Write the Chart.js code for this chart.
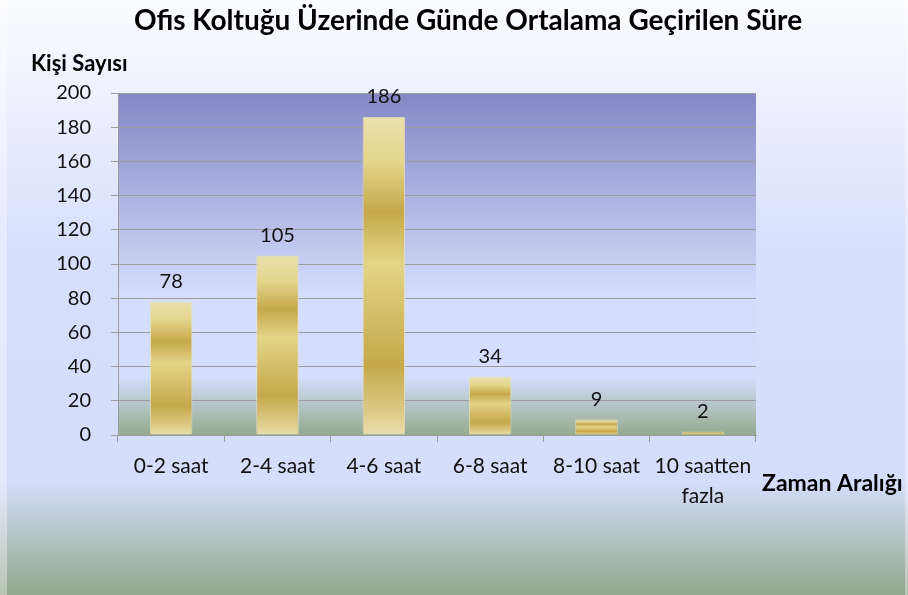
<!DOCTYPE html>
<html><head><meta charset="utf-8">
<script src="https://cdn.jsdelivr.net/npm/chart.js@4/dist/chart.umd.min.js"></script>
<style>html,body{margin:0;padding:0;background:#fff;}canvas{display:block;}</style>
</head><body>
<canvas id="c" width="908" height="595" style="width:908px;height:595px"></canvas>
<script>
const chartTitle = 'Ofis Koltuğu Üzerinde Günde Ortalama Geçirilen Süre';
const yAxisName = 'Kişi Sayısı';
const xAxisName = 'Zaman Aralığı';
const categories = ['0-2 saat', '2-4 saat', '4-6 saat', '6-8 saat', '8-10 saat', ['10 saatten', 'fazla']];
const values = [78, 105, 186, 34, 9, 2];
const yMin = 0, yMax = 200, yStep = 20;

const FONT = "Lato, 'DejaVu Sans', sans-serif";
const TXT = '#111111';
const GRID = '#9c9c9c';

function goldGradient(ctx) {
  const chart = ctx.chart;
  if (!chart.chartArea) return '#d4bc62';
  const ys = chart.scales.y;
  const top = ys.getPixelForValue(ctx.raw);
  const base = ys.getPixelForValue(0);
  if (!isFinite(top) || !isFinite(base) || base - top < 1) return '#d8c270';
  const g = chart.ctx.createLinearGradient(0, top, 0, base);
  g.addColorStop(0.00, '#e9e0ac');
  g.addColorStop(0.14, '#e4d58c');
  g.addColorStop(0.30, '#c6a84b');
  g.addColorStop(0.46, '#e4d488');
  g.addColorStop(0.62, '#d5bd68');
  g.addColorStop(0.78, '#c5a84b');
  g.addColorStop(0.92, '#dcc883');
  g.addColorStop(1.00, '#e9deab');
  return g;
}

const bgPlugin = {
  id: 'bgPlugin',
  beforeDraw(chart) {
    const c = chart.ctx, W = chart.width, H = chart.height;
    c.save();
    const pg = c.createLinearGradient(0, 0, 0, H);
    pg.addColorStop(0.00, '#fbfcff');
    pg.addColorStop(0.42, '#d6e0fd');
    pg.addColorStop(0.81, '#d4defb');
    pg.addColorStop(1.00, '#92a88b');
    c.fillStyle = pg;
    c.fillRect(0, 0, W, H);
    c.fillStyle = 'rgba(255,255,255,0.35)';
    c.fillRect(0, 0, 7, H);
    c.fillRect(W - 3, 0, 3, H);
    const a = chart.chartArea;
    const ag = c.createLinearGradient(0, a.top, 0, a.bottom);
    ag.addColorStop(0.00, '#8387c5');
    ag.addColorStop(0.60, '#d4defc');
    ag.addColorStop(0.83, '#d4defc');
    ag.addColorStop(1.00, '#94aa8e');
    c.fillStyle = ag;
    c.fillRect(a.left, a.top, a.right - a.left, a.bottom - a.top);
    c.restore();
  },
  afterDatasetsDraw(chart) {
    const c = chart.ctx;
    const meta = chart.getDatasetMeta(0);
    c.save();
    c.font = '20px ' + FONT;
    c.fillStyle = TXT;
    c.textAlign = 'center';
    c.textBaseline = 'middle';
    meta.data.forEach((el, i) => {
      c.fillText(String(values[i]), el.x, el.y - 20);
    });
    c.restore();
  },
  afterDraw(chart) {
    const c = chart.ctx;
    c.save();
    c.fillStyle = '#000';
    c.textBaseline = 'middle';
    c.textAlign = 'center';
    c.font = 'bold 28px ' + FONT;
    c.fillText(chartTitle, 468, 21);
    c.textAlign = 'left';
    c.font = 'bold 22px ' + FONT;
    c.fillText(yAxisName, 31, 64);
    c.font = 'bold 23px ' + FONT;
    c.fillText(xAxisName, 762, 484);
    c.restore();
  }
};

new Chart(document.getElementById('c'), {
  type: 'bar',
  data: {
    labels: categories,
    datasets: [{
      data: values,
      backgroundColor: goldGradient,
      borderColor: 'rgba(236,228,185,0.8)',
      borderWidth: 1,
      barPercentage: 0.4,
      categoryPercentage: 1.0
    }]
  },
  options: {
    responsive: false,
    animation: false,
    devicePixelRatio: 1,
    layout: { padding: { left: 0, right: 152, top: 93, bottom: 0 } },
    plugins: {
      legend: { display: false },
      tooltip: { enabled: false },
      title: { display: false }
    },
    scales: {
      x: {
        grid: { offset: true, drawOnChartArea: false, drawTicks: true, tickLength: 7, color: GRID },
        border: { display: true, color: GRID },
        ticks: { color: TXT, font: { family: FONT, size: 21, lineHeight: 1.45 }, padding: 9, maxRotation: 0, autoSkip: false },
        afterFit(s) { s.height = 160; }
      },
      y: {
        min: yMin, max: yMax,
        grid: { color: GRID, tickLength: 7 },
        border: { display: true, color: GRID },
        ticks: { stepSize: yStep, color: TXT, font: { family: FONT, size: 20 }, padding: 20 },
        afterFit(s) { s.width = 118; }
      }
    }
  },
  plugins: [bgPlugin]
});
</script>
</body></html>
